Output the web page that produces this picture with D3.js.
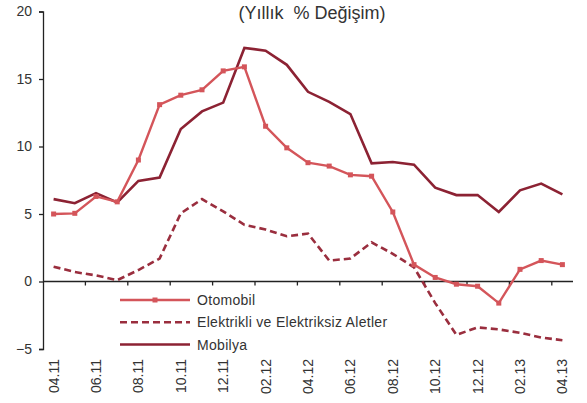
<!DOCTYPE html>
<html>
<head>
<meta charset="utf-8">
<script src="https://cdn.jsdelivr.net/npm/d3@7"></script>
<style>
  body { margin: 0; background: white; }
  text { font-family: "Liberation Sans", Arial, sans-serif; fill: #333; }
</style>
</head>
<body>
<svg class="chart" width="587" height="403"></svg>
<script>
// Yillik % degisim: otomobil, elektrikli aletler, mobilya

var months = ["04.11", "05.11", "06.11", "07.11", "08.11", "09.11", "10.11", "11.11", "12.11",
              "01.12", "02.12", "03.12", "04.12", "05.12", "06.12", "07.12", "08.12", "09.12",
              "10.12", "11.12", "12.12", "01.13", "02.13", "03.13", "04.13"];
var otomobil = [5.0, 5.05, 6.3, 5.9, 9.0, 13.1, 13.8, 14.2, 15.6, 15.9, 11.5, 9.9, 8.8, 8.55,
                7.9, 7.8, 5.15, 1.25, 0.3, -0.2, -0.35, -1.6, 0.9, 1.55, 1.25];
var elektrikli = [1.1, 0.7, 0.45, 0.1, 0.85, 1.7, 5.05, 6.1, 5.2, 4.2, 3.85, 3.35, 3.55, 1.55,
                  1.7, 2.9, 2.05, 1.05, -1.6, -3.95, -3.4, -3.55, -3.8, -4.15, -4.35];
var mobilya = [6.1, 5.8, 6.55, 5.85, 7.45, 7.7, 11.3, 12.6, 13.25, 17.3, 17.1, 16.05, 14.05, 13.3,
               12.4, 8.75, 8.85, 8.65, 6.95, 6.4, 6.4, 5.15, 6.75, 7.25, 6.45];
var yTicks = [-5, 0, 5, 10, 15, 20];
var seriesNames = ["Otomobil", "Elektrikli ve Elektriksiz Aletler", "Mobilya"];

var COL_OTO = "#d4555a";
var COL_ELK = "#9a2e3e";
var COL_MOB = "#8c2233";

var svg = d3.select(".chart");

var x = d3.scaleBand().domain(months).range([43, 573]);
var y = d3.scaleLinear().domain([-5, 20]).range([349, 11.5]);
function cx (d) { return x(d) + x.bandwidth() / 2; }

// Title (double space kept)
svg.append("text")
    .attr("x", 312).attr("y", 19)
    .attr("text-anchor", "middle")
    .style("font-size", "18px")
    .style("white-space", "pre")
    .text("(Yıllık  % Değişim)");

// Y axis
var yAxis = svg.append("g")
    .attr("transform", "translate(43,0)")
    .call(d3.axisLeft(y).tickValues(yTicks).tickSize(4).tickPadding(7).tickFormat(d3.format("d")));
yAxis.select(".domain").attr("stroke", "#222").attr("stroke-width", 1.3);
yAxis.selectAll(".tick line").attr("stroke", "#222").attr("stroke-width", 1.3);
yAxis.selectAll(".tick text").style("font-size", "14px").style("font-family", "Liberation Sans, Arial, sans-serif").attr("fill", "#333");

// X axis at zero line
var y0 = y(0);
svg.append("line")
    .attr("x1", 43).attr("x2", 573)
    .attr("y1", y0).attr("y2", y0)
    .attr("stroke", "#222").attr("stroke-width", 1.3);
months.forEach(function (m, i) {
    if (i > 0 && i % 2 == 0) {
        svg.append("line")
            .attr("x1", x(m)).attr("x2", x(m))
            .attr("y1", y0).attr("y2", y0 + 4)
            .attr("stroke", "#222").attr("stroke-width", 1.3);
    }
    if (i % 2 == 0) {
        svg.append("text")
            .attr("transform", "translate(" + (cx(m) + 5) + ",359) rotate(-90)")
            .attr("text-anchor", "end")
            .style("font-size", "14px")
            .text(m);
    }
});

// Lines
var line = d3.line()
    .x(function (d, i) { return cx(months[i]); })
    .y(function (d) { return y(d); });

svg.append("path").datum(elektrikli)
    .attr("fill", "none").attr("stroke", COL_ELK).attr("stroke-width", 2.6)
    .attr("stroke-dasharray", "7,4")
    .attr("d", line);

svg.append("path").datum(mobilya)
    .attr("fill", "none").attr("stroke", COL_MOB).attr("stroke-width", 2.6)
    .attr("d", line);

svg.append("path").datum(otomobil)
    .attr("fill", "none").attr("stroke", COL_OTO).attr("stroke-width", 2.4)
    .attr("d", line);

svg.selectAll(".otoMark").data(otomobil).enter().append("rect")
    .attr("class", "otoMark")
    .attr("x", function (d, i) { return cx(months[i]) - 2.5; })
    .attr("y", function (d) { return y(d) - 2.5; })
    .attr("width", 5).attr("height", 5)
    .attr("fill", COL_OTO);

// Legend
var legendStyles = [
    { color: COL_OTO, dash: null, marker: true },
    { color: COL_ELK, dash: "7,4", marker: false },
    { color: COL_MOB, dash: null, marker: false }
];
seriesNames.forEach(function (name, i) {
    var ly = 300 + i * 22.3;
    var st = legendStyles[i];
    svg.append("line")
        .attr("x1", 120).attr("x2", 190)
        .attr("y1", ly).attr("y2", ly)
        .attr("stroke", st.color).attr("stroke-width", 2.5)
        .attr("stroke-dasharray", st.dash);
    if (st.marker) {
        svg.append("rect")
            .attr("x", 152.5).attr("y", ly - 2.5)
            .attr("width", 5).attr("height", 5)
            .attr("fill", st.color);
    }
    svg.append("text")
        .attr("x", 197).attr("y", ly + 5)
        .style("font-size", "14px")
        .style("letter-spacing", "0.3px")
        .text(name);
});
</script>
</body>
</html>
